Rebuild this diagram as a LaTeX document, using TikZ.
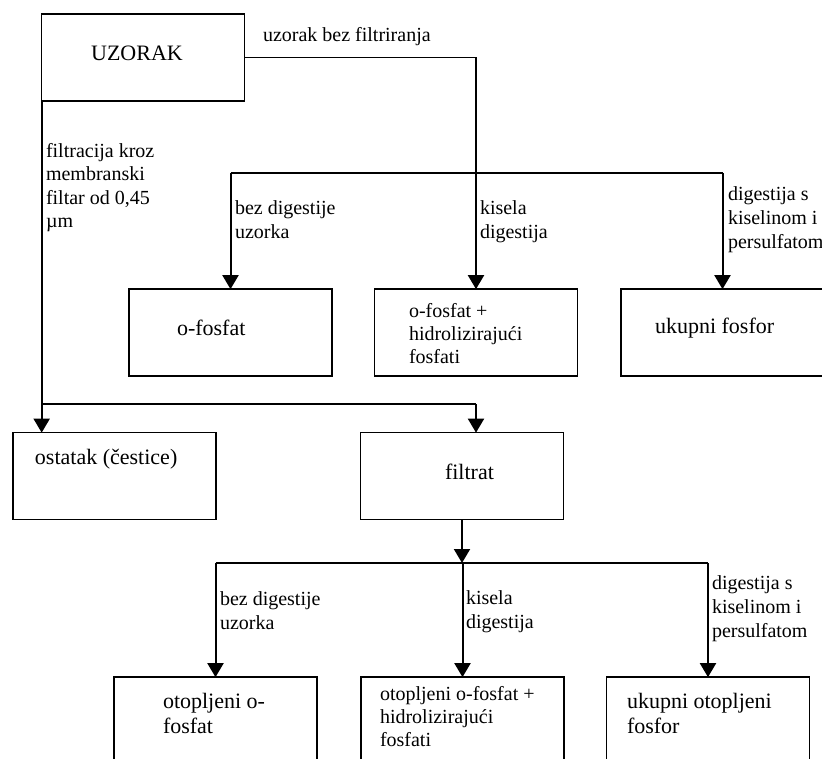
\documentclass[tikz,border=0pt]{standalone}
\usepackage{fontspec}
\setmainfont{Liberation Serif}
\usetikzlibrary{arrows.meta}
\newcommand{\labfont}{\fontsize{15}{17.7}\selectfont}
\newcommand{\bigfont}{\fontsize{16.5}{18.8}\selectfont}
\newcommand{\midfont}{\fontsize{15}{17.3}\selectfont}

\tikzset{
    box/.style={draw, line width=1.1pt, minimum width=152pt, minimum height=65pt, inner sep=0pt, outer sep=0pt},
    txt/.style={inner sep=0pt, outer sep=0pt, align=left},
    lab/.style={txt, font=\labfont, anchor=north west},
    arrowline/.style={line width=1.5pt, -{Triangle[length=10.5pt, width=12pt]}},
    hline/.style={line width=1pt},
    thinline/.style={line width=0.8pt}
}

\begin{document}
\begin{tikzpicture}[x=0.75pt, y=-0.75pt]

\useasboundingbox (0,0) rectangle (822,759);

% Draw the boxes
\foreach \name/\x/\y in {uzorak/143/57.5, ofosfat/230.5/332.5, hidro/476/332.5, ukupni/722.5/332.5,
    ostatak/114.5/476, filtrat/462/476, otopA/215.5/720.5, otopB/462.5/720.5, otopC/708/720.5}
    \node[box] (\name) at (\x,\y) {};

% Texts in the boxes
\node[txt, font=\bigfont] (uzorak-t) at (137,53) {UZORAK};
\node[txt, font=\bigfont, anchor=west] (ofosfat-t) at (177,328) {o-fosfat};
\node[txt, font=\midfont, anchor=north west] (hidro-t) at (409,303) {o-fosfat +\\hidrolizirajući\\fosfati};
\node[txt, font=\bigfont, anchor=west] (ukupni-t) at (655,328) {ukupni fosfor};
\node[txt, font=\bigfont, anchor=west] (ostatak-t) at (35,459) {ostatak (čestice)};
\node[txt, font=\bigfont, anchor=west] (filtrat-t) at (445,472) {filtrat};
\node[txt, font=\fontsize{16.5}{18.8}\selectfont, anchor=north west] (otopA-t) at (163,693) {otopljeni o-\\fosfat};
\node[txt, font=\midfont, anchor=north west] (otopB-t) at (380,686) {otopljeni o-fosfat +\\hidrolizirajući\\fosfati};
\node[txt, font=\fontsize{16.5}{18.8}\selectfont, anchor=north west] (otopC-t) at (627,693) {ukupni otopljeni\\fosfor};

% Split points
\coordinate (split1) at (476,173);
\coordinate (split2) at (42,404);
\coordinate (split3) at (462,563);

% Sample without filtering
\draw[thinline] (uzorak.east) -| (split1);
\node[lab, anchor=west] (nofilter) at (263,37) {uzorak bez filtriranja};
\draw[hline] (ofosfat.north |- split1) -- (ukupni.north |- split1);
\foreach \b in {ofosfat, hidro, ukupni}
    \draw[arrowline] (\b.north |- split1) -- (\b.north);
\node[lab] (dig1) at (235,201) {bez digestije\\uzorka};
\node[lab] (dig2) at (480,201) {kisela\\digestija};
\node[lab] (dig3) at (728,187) {digestija s\\kiselinom i\\persulfatom};

% Filtration
\draw[arrowline] (uzorak.south west) -- (uzorak.south west |- ostatak.north);
\node[lab] (filtr) at (46,143) {filtracija kroz\\membranski\\filtar od 0,45\\µm};
\draw[hline] (split2) -- (split2 -| split1);
\draw[arrowline] (split2 -| split1) -- (filtrat.north -| split1);
\draw[arrowline] (filtrat.south) -- (split3);
\draw[hline] (otopA.north |- split3) -- (otopC.north |- split3);
\foreach \b in {otopA, otopB, otopC}
    \draw[arrowline] (\b.north |- split3) -- (\b.north);
\node[lab] (dig4) at (220,592) {bez digestije\\uzorka};
\node[lab] (dig5) at (466,591) {kisela\\digestija};
\node[lab] (dig6) at (712,576) {digestija s\\kiselinom i\\persulfatom};

\end{tikzpicture}
\end{document}
